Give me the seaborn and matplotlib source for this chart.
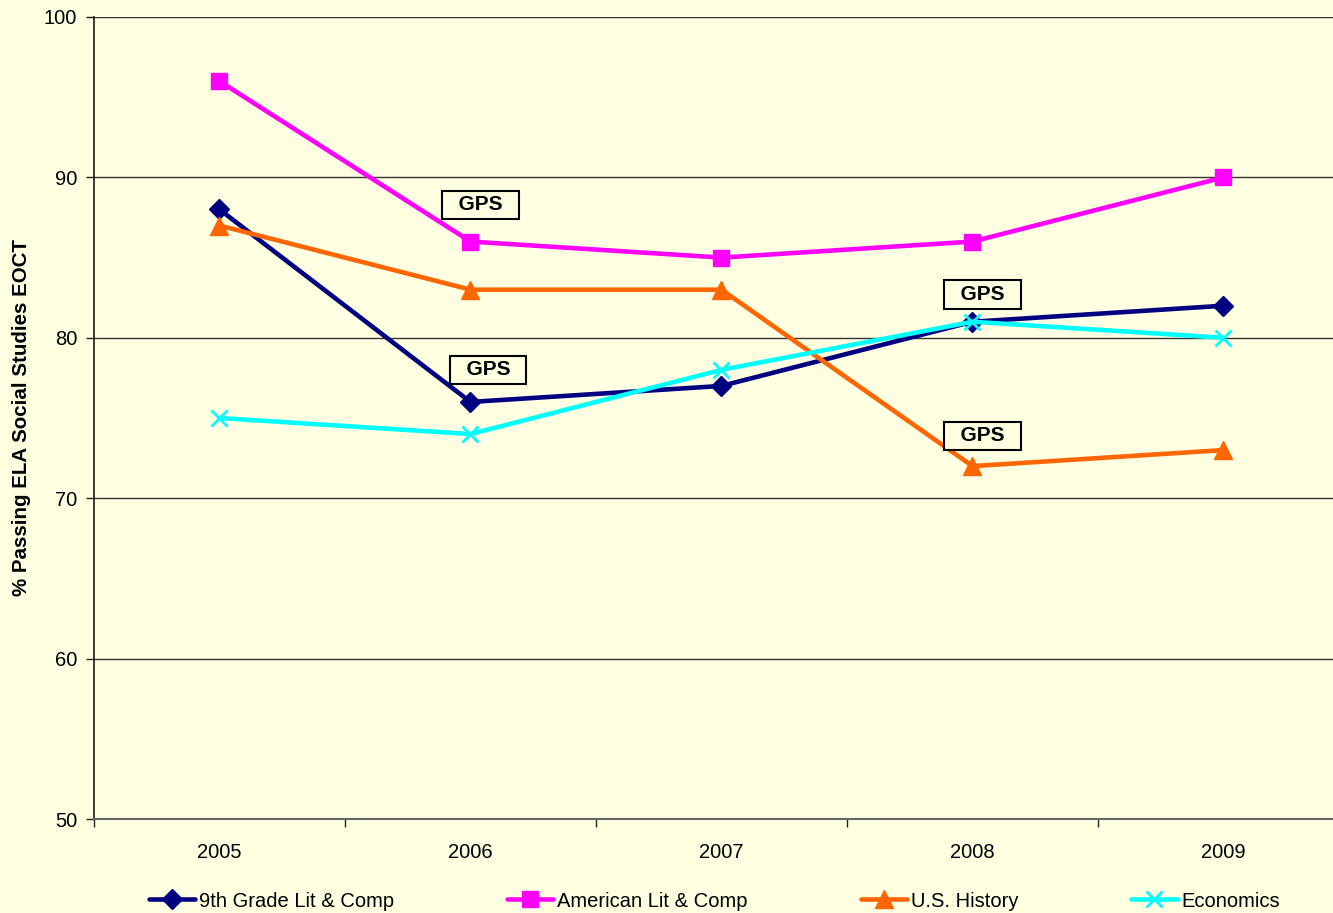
import matplotlib
matplotlib.use("Agg")
import matplotlib.pyplot as plt
import numpy as np
import pandas as pd
import seaborn as sns

YEARS = ["2005", "2006", "2007", "2008", "2009"]
NINTH_LIT = [88, 76, 77, 81, 82]
AMER_LIT = [96, 86, 85, 86, 90]
US_HISTORY = [87, 83, 83, 72, 73]
ECONOMICS = [75, 74, 78, 81, 80]
SERIES = {
    "9th Grade Lit & Comp": NINTH_LIT,
    "American Lit & Comp": AMER_LIT,
    "U.S. History": US_HISTORY,
    "Economics": ECONOMICS,
}
COLORS = ["#000080", "#FF00FF", "#FF6600", "#00FFFF"]
MARKERS = ["D", "s", "^", "x"]
BG = "#FFFFE1"

rows = [{"pos": i, "score": v, "course": name}
        for name, vals in SERIES.items() for i, v in enumerate(vals)]
df = pd.DataFrame(rows)

sns.set_theme(style="white")
plt.rcParams["font.family"] = ["Liberation Sans", "DejaVu Sans"]
plt.rcParams["text.color"] = "black"

fig = plt.figure(figsize=(13.33, 9.13), dpi=100, facecolor=BG)
ax = fig.add_axes([94 / 1333, 94 / 913, (1349 - 94) / 1333, 802 / 913])
ax.set_facecolor(BG)

sizes = {"D": 10.5, "s": 12, "^": 12.5, "x": 11.5}
for (name, vals), color, mk in zip(SERIES.items(), COLORS, MARKERS):
    sub = df[df["course"] == name]
    sns.lineplot(data=sub, x="pos", y="score", ax=ax, color=color, lw=3.3,
                 marker=mk, markersize=sizes[mk], markeredgecolor=color,
                 markeredgewidth=2 if mk == "x" else 1, label=name)

ax.set_xlim(-0.5, 4.5)
ax.set_ylim(50, 100)
ax.set_yticks(np.arange(50, 101, 10))
ax.set_xticks(range(len(YEARS)))
ax.set_xticklabels(YEARS)
ax.set_xticks(np.arange(-0.5, 4.6, 1), minor=True)
ax.tick_params(axis="x", which="major", length=0, labelsize=14.5, pad=17,
               labelcolor="black")
ax.tick_params(axis="x", which="minor", length=6, width=1, color="#222222",
               direction="out", bottom=True)
ax.tick_params(axis="y", length=6, width=1, color="#222222", direction="out",
               left=True, labelsize=14.5, pad=6, labelcolor="black")
ax.yaxis.grid(True, color="#333333", lw=1)
ax.set_axisbelow(True)
for side in ["top", "right"]:
    ax.spines[side].set_visible(False)
ax.spines["left"].set_color("#222222")
ax.spines["bottom"].set_color("#666666")
ax.spines["bottom"].set_linewidth(1.5)
ax.set_xlabel("")
ax.set_ylabel("")
fig.text(22 / 1333, (913 - 418) / 913, "% Passing ELA Social Studies EOCT",
         rotation=90, ha="center", va="center", fontsize=14.8,
         fontweight="bold", color="black")

box = dict(boxstyle="square,pad=0.22", fc=BG, ec="black", lw=1.5)
for x, y in [(1.04, 88.3), (1.07, 78.0), (3.04, 82.7), (3.04, 73.9)]:
    ax.text(x, y, "  GPS  ", ha="center", va="center", fontsize=15,
            fontweight="bold", bbox=box)

ax.legend(loc="center", ncol=4, frameon=False, fontsize=14.5,
          handlelength=2.3, handletextpad=0.2, columnspacing=5.6)
leg = ax.get_legend()
leg.set_bbox_to_anchor((0.536, 12 / 913), transform=fig.transFigure)
for t in leg.get_texts():
    t.set_color("black")

fig.savefig("out.png", dpi=100, facecolor=BG)
